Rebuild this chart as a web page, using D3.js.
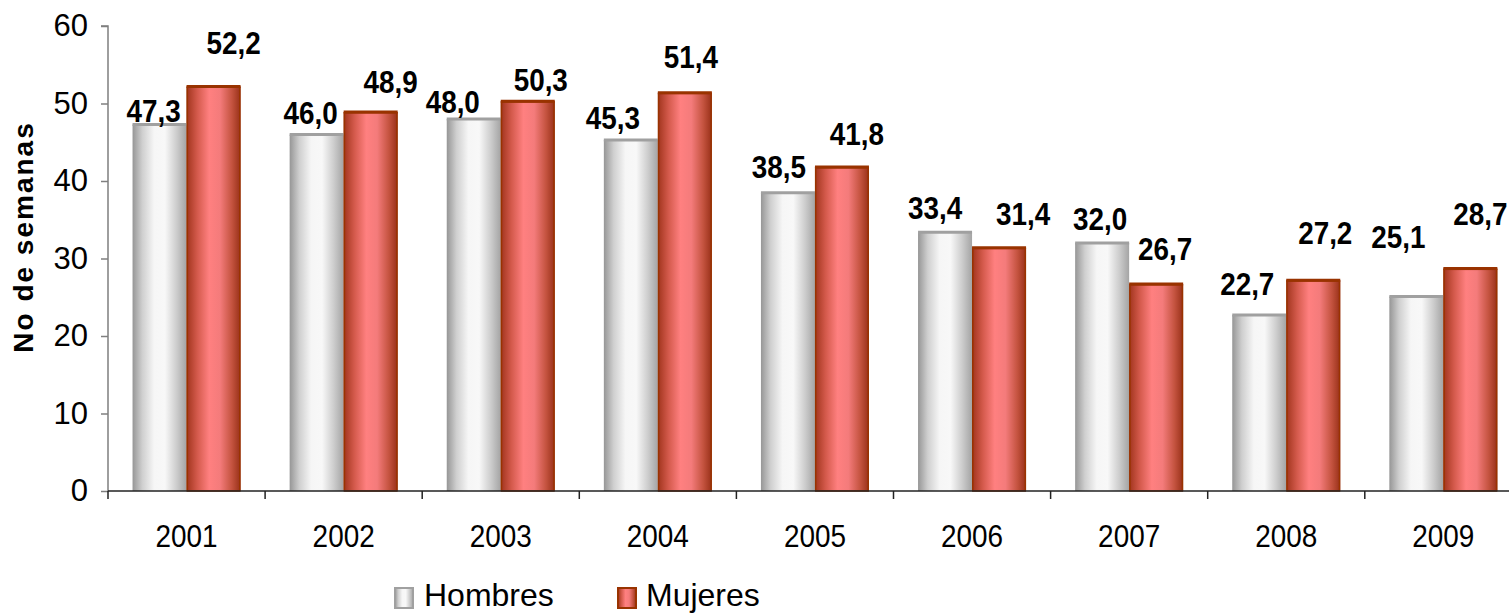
<!DOCTYPE html>
<html><head><meta charset="utf-8">
<script src="https://cdn.jsdelivr.net/npm/d3@7"></script>
<style>body{margin:0;background:#fff}svg{display:block}text{font-family:Arial,"Liberation Sans",sans-serif}</style>
</head><body>
<script>
// ---- data ----
const years = ["2001","2002","2003","2004","2005","2006","2007","2008","2009"];
const seriesNames = ["Hombres","Mujeres"];
const hombres = [47.3,46.0,48.0,45.3,38.5,33.4,32.0,22.7,25.1];
const mujeres = [52.2,48.9,50.3,51.4,41.8,31.4,26.7,27.2,28.7];
const yTicks = [0,10,20,30,40,50,60];
const yTitle = "No de semanas";

// ---- label layout nudges (pixels, relative to bar center / bar top) ----
const hLabelDx = [-6,-6,-21,-18,-9,-10,-2,-12,-18];
const hLabelDy = [-14,-22,-18,-22,-26,-25,-25,-32,-60];
const mLabelDx = [20,20,13,6,15,24,9,12,10];
const mLabelDy = [-44,-31,-22,-36,-34,-34,-36,-48,-55];

const W = 1509, H = 614;
const svg = d3.select("body").append("svg").attr("width", W).attr("height", H);

const x0 = 108, y0 = 491, yTop = 26, step = 157.1;
const x = d3.scaleBand().domain(years).range([x0, x0 + step*years.length]).paddingInner(0).paddingOuter(0);
const xs = d3.scaleBand().domain(seriesNames).range([0, x.bandwidth()]).paddingInner(0).paddingOuter(0.4545);
const y = d3.scaleLinear().domain([0,60]).range([y0, yTop]);

const defs = svg.append("defs");
const gGray = defs.append("linearGradient").attr("id","gGray").attr("x1","0").attr("x2","1").attr("y1","0").attr("y2","0");
[[0,"#969696"],[0.18,"#cfcfcf"],[0.4,"#f6f6f6"],[0.6,"#f8f8f8"],[0.82,"#cccccc"],[1,"#a4a4a4"]]
  .forEach(s=>gGray.append("stop").attr("offset",s[0]).attr("stop-color",s[1]));
const gRed = defs.append("linearGradient").attr("id","gRed").attr("x1","0").attr("x2","1").attr("y1","0").attr("y2","0");
[[0,"#a0341c"],[0.2,"#d45a4c"],[0.42,"#ff8080"],[0.62,"#f47b7b"],[0.84,"#c4533f"],[1,"#983018"]]
  .forEach(s=>gRed.append("stop").attr("offset",s[0]).attr("stop-color",s[1]));

// y axis
const yAxis = d3.axisLeft(y).tickValues(yTicks).tickSize(7).tickPadding(13).tickFormat(d3.format("d"));
const ya = svg.append("g").attr("transform",`translate(${x0},0)`).call(yAxis);
ya.select(".domain").attr("stroke","#7f7f7f").attr("stroke-width",1.5).attr("d",`M-7,${yTop}H0V${y0}`);
ya.selectAll(".tick line").attr("stroke","#7f7f7f").attr("stroke-width",1.5);
ya.selectAll(".tick text").attr("font-size",31).attr("fill","#000").attr("font-family","Arial, 'Liberation Sans', sans-serif");

// bars
const data = years.map((yr,i)=>({yr,i,vals:[hombres[i],mujeres[i]]}));
const groups = svg.append("g").selectAll("g").data(data).join("g").attr("transform",d=>`translate(${x(d.yr)},0)`);
groups.selectAll("rect").data(d=>d.vals.map((v,k)=>({v,k}))).join("rect")
  .attr("x",d=>xs(seriesNames[d.k]))
  .attr("width",xs.bandwidth())
  .attr("y",d=>y(d.v))
  .attr("height",d=>y0 - y(d.v))
  .attr("fill",d=>d.k===0?"url(#gGray)":"url(#gRed)");
groups.selectAll("path.top").data(d=>d.vals.map((v,k)=>({v,k}))).join("path").attr("class","top")
  .attr("d",d=>`M${xs(seriesNames[d.k])},${y(d.v)}h${xs.bandwidth()}`)
  .attr("stroke",d=>d.k===0?"#a0a0a0":"#993300").attr("stroke-width",3);
groups.selectAll("rect.bd").data(d=>[{v:d.vals[1]}]).join("rect").attr("class","bd")
  .attr("x",xs("Mujeres")+0.75).attr("width",xs.bandwidth()-1.5)
  .attr("y",d=>y(d.v)+0.75).attr("height",d=>y0-y(d.v)-0.75)
  .attr("fill","none").attr("stroke","#993300").attr("stroke-width",1.5);

// x axis
const xAxis = d3.axisBottom(x).tickSize(0).tickPadding(34);
const xa = svg.append("g").attr("transform",`translate(0,${y0})`).call(xAxis);
xa.select(".domain").attr("stroke","#222").attr("stroke-width",1.5).attr("d",`M${x0},0H${W}`);
xa.selectAll(".tick text").attr("font-size",31).attr("fill","#000").attr("font-family","Arial, 'Liberation Sans', sans-serif")
  .attr("transform","scale(0.9,1)");
svg.append("g").selectAll("line").data(years).join("line")
  .attr("x1",d=>x(d)).attr("x2",d=>x(d)).attr("y1",y0).attr("y2",y0+8)
  .attr("stroke","#222").attr("stroke-width",1.5);

// value labels
const fmt = v=>d3.format(".1f")(v).replace(".",",");
const lab = svg.append("g").attr("font-size",32).attr("font-weight","bold").attr("text-anchor","middle").attr("fill","#000");
const addLabel = (cx, cy, t) => lab.append("text")
  .attr("transform",`translate(${cx},${cy}) scale(0.87,1)`).attr("dy","0.36em").text(t);
data.forEach(d=>{
  addLabel(x(d.yr)+xs("Hombres")+xs.bandwidth()/2+hLabelDx[d.i], y(hombres[d.i])+hLabelDy[d.i], fmt(hombres[d.i]));
  addLabel(x(d.yr)+xs("Mujeres")+xs.bandwidth()/2+mLabelDx[d.i], y(mujeres[d.i])+mLabelDy[d.i], fmt(mujeres[d.i]));
});

// y title
svg.append("text").attr("transform","translate(33,237) rotate(-90)").attr("text-anchor","middle")
  .attr("font-size",28).attr("font-weight","bold").attr("letter-spacing",2).text(yTitle);

// legend
const leg = svg.append("g");
const legItems = [{n:"Hombres",fill:"url(#gGray)",stroke:"#a0a0a0",x:394,tx:424},{n:"Mujeres",fill:"url(#gRed)",stroke:"#993300",x:617,tx:646}];
legItems.forEach(it=>{
  leg.append("rect").attr("x",it.x+1).attr("y",588).attr("width",18).attr("height",20)
    .attr("fill",it.fill).attr("stroke",it.stroke).attr("stroke-width",2);
  leg.append("text").attr("x",it.tx).attr("y",606).attr("font-size",32).attr("fill","#000").text(it.n);
});
</script>
</body></html>
